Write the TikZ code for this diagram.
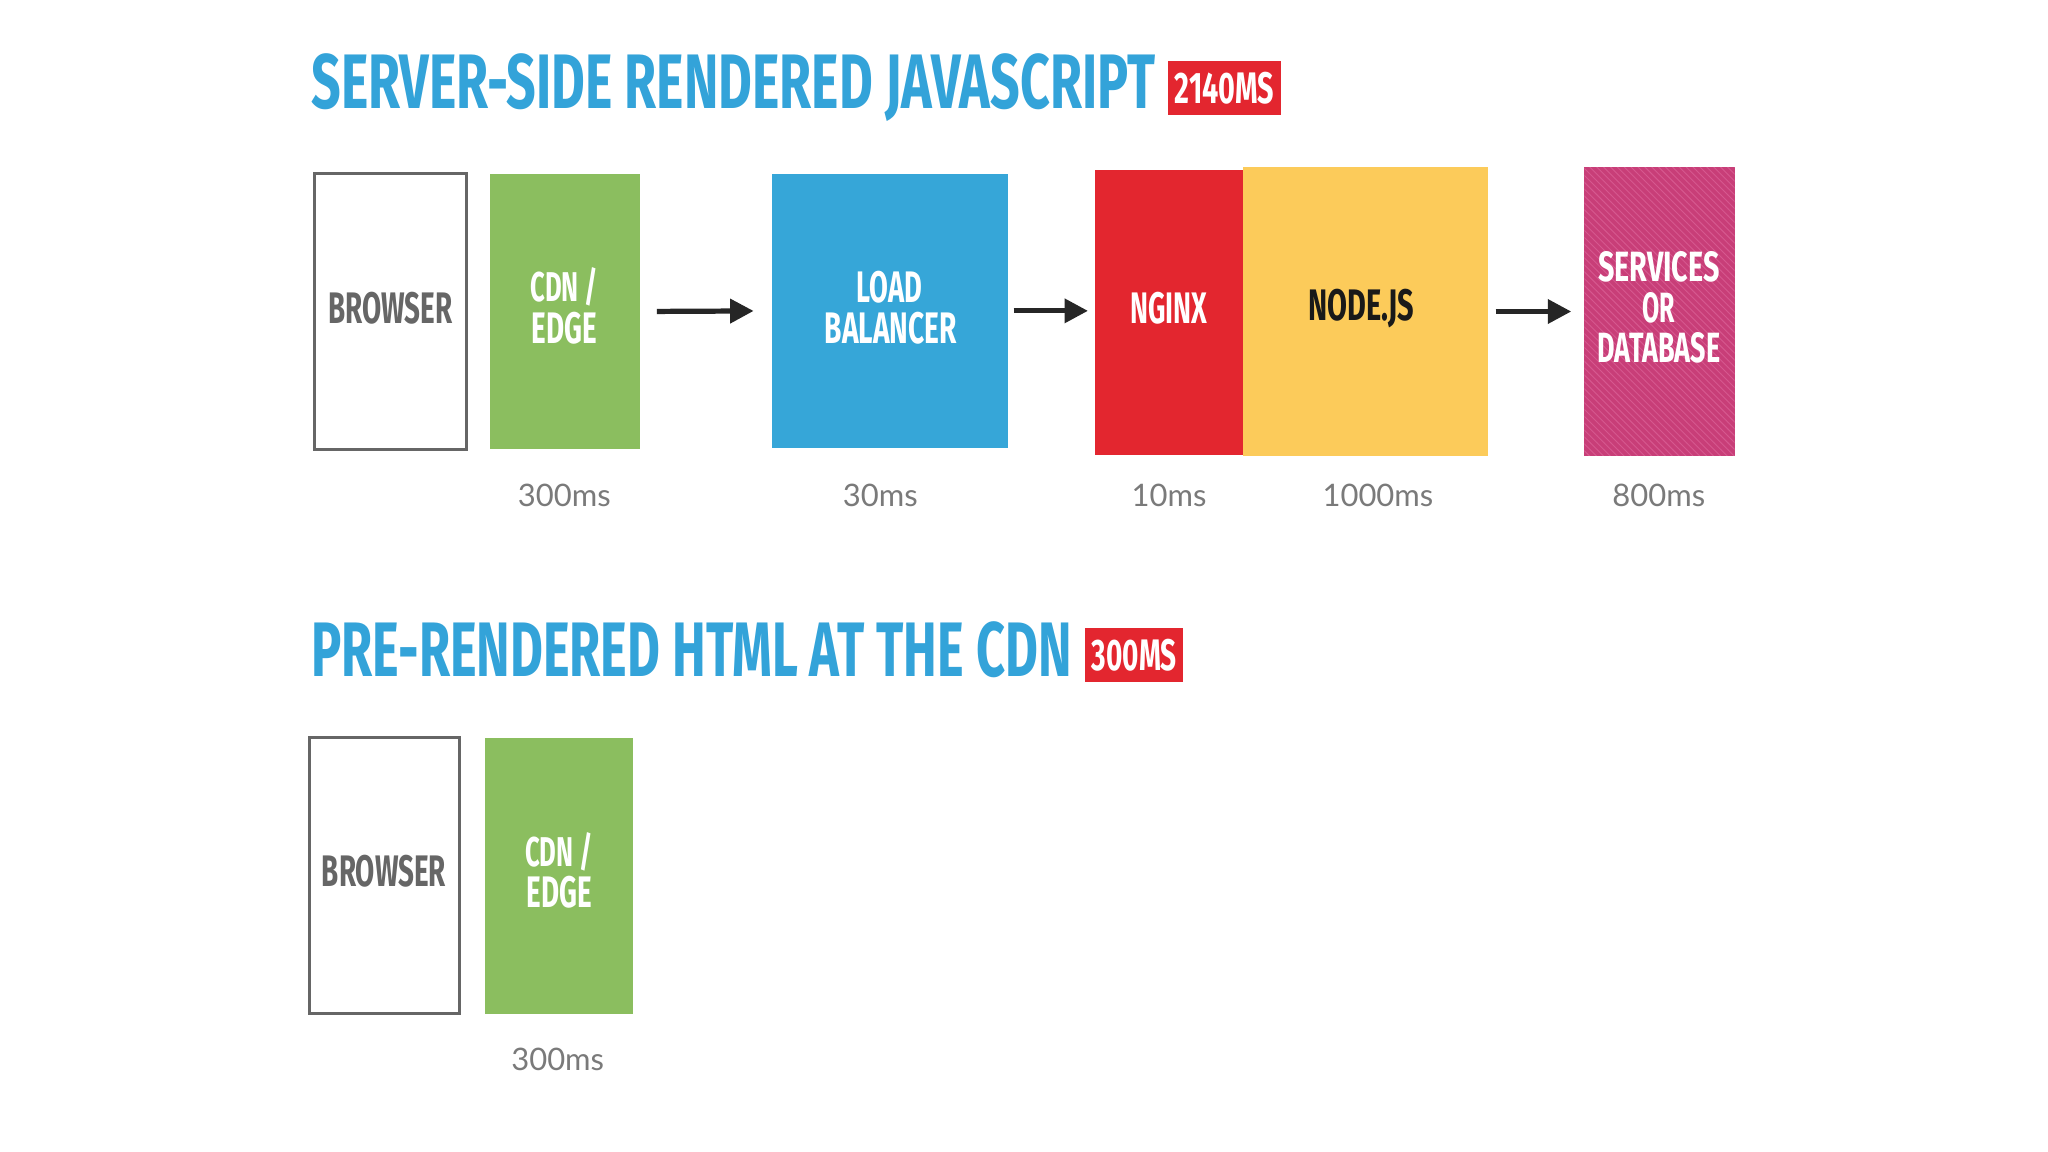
\documentclass[tikz,border=0pt]{standalone}
\usepackage{fontspec}
\usepackage{graphicx}
\setmainfont{Lato}
\newfontfamily\dinf[FakeStretch=0.7]{Fira Sans}
\usetikzlibrary{arrows.meta,patterns}
\definecolor{tblue}{HTML}{33A3D9}
\definecolor{bred}{HTML}{E3262F}
\definecolor{cgreen}{HTML}{8BBE5F}
\definecolor{lblue}{HTML}{36A6D8}
\definecolor{nyel}{HTML}{FCCB5A}
\definecolor{smag}{HTML}{C83E78}
\definecolor{hatch}{HTML}{D6588F}
\definecolor{bgray}{HTML}{666666}
\definecolor{tgray}{HTML}{7A7A7A}
\newcommand\rbx[3]{\resizebox{#1\dimexpr0.02cm\relax}{#2\dimexpr0.02cm\relax}{\dinf\bfseries #3}}
\newcommand\bx[6]{\node[#6,minimum width={(#4-#2)*0.02cm},minimum height={(#5-#3)*0.02cm}] (#1) at ({(#2+#4)/2},{(#3+#5)/2}) {};}
\tikzset{
  blk/.style={inner sep=0pt,outer sep=0pt,draw=none},
  wbox/.style={blk,draw=bgray,line width=1.3pt,fill=white},
  lbl/.style={inner sep=0pt,anchor=center},
  ms/.style={inner sep=0pt,anchor=center,text=tgray,font=\fontsize{13.5pt}{14pt}\selectfont},
  arr/.style={-{Triangle[length=0.36cm,width=0.36cm]},line width=0.08cm,black!85}
}
\begin{document}
\begin{tikzpicture}[x=0.02cm,y=-0.02cm]
\useasboundingbox[fill=white] (0,0) rectangle (1568,882);
% titles
\node[lbl,anchor=base west,text=tblue] (t1) at (238,83) {\rbx{646}{42}{SERVER-SIDE RENDERED JAVASCRIPT}};
\bx{b1}{894}{47}{981}{88}{blk,fill=bred}
\node[lbl,text=white] at (b1) {\rbx{76}{24}{2140MS}};
\node[lbl,anchor=base west,text=tblue] (t2) at (238,518) {\rbx{582}{42}{PRE-RENDERED HTML AT THE CDN}};
\bx{b2}{831}{481}{906}{522}{blk,fill=bred}
\node[lbl,text=white] at (b2) {\rbx{65}{24}{300MS}};
% row 1
\bx{br1}{241}{133}{357}{344}{wbox}
\node[lbl,text=bgray] at (299,236) {\rbx{95}{24}{BROWSER}};
\bx{cdn1}{375}{133}{490}{344}{blk,fill=cgreen}
\node[lbl,text=white] at (432,220) {\rbx{52}{26}{CDN /}};
\node[lbl,text=white] at (432,251) {\rbx{50}{24}{EDGE}};
\bx{lb}{591}{133}{772}{343}{blk,fill=lblue}
\node[lbl,text=white] at (681,220) {\rbx{50}{24}{LOAD}};
\node[lbl,text=white] at (682,251) {\rbx{101}{24}{BALANCER}};
\bx{ngx}{838}{130}{952}{348}{blk,fill=bred}
\node[lbl,text=white] at (895,236) {\rbx{59}{24}{NGINX}};
\bx{nd}{952}{128}{1139}{349}{blk,fill=nyel}
\node[lbl,text=black!90] at (1042,236) {\rbx{81}{24}{NODE.JS}};
\bx{svc}{1213}{128}{1328}{349}{blk,fill=smag}
\fill[pattern=north west lines,pattern color=hatch] (1213,128) rectangle (1328,349);
\node[lbl,text=white] at (1270,204) {\rbx{93}{23}{SERVICES}};
\node[lbl,text=white] at (1270,236) {\rbx{25}{23}{OR}};
\node[lbl,text=white] at (1270,266) {\rbx{94}{23}{DATABASE}};
\draw[arr,shorten <=0.26cm,shorten >=0.28cm] (cdn1.east) -- (lb.west);
\draw[arr,shorten <=0.08cm,shorten >=0.1cm] (lb.east) -- (ngx.west |- lb.east);
\draw[arr,shorten <=0.12cm,shorten >=0.2cm] (nd.east) -- (svc.west);
\node[ms] at (432,379) {300ms};
\node[ms] at (674,379) {30ms};
\node[ms] at (895,379) {10ms};
\node[ms] at (1055,379) {1000ms};
\node[ms] at (1270,379) {800ms};
% row 2
\bx{br2}{237}{565}{352}{776}{wbox}
\node[lbl,text=bgray] at (294,667) {\rbx{95}{24}{BROWSER}};
\bx{cdn2}{371}{565}{485}{776}{blk,fill=cgreen}
\node[lbl,text=white] at (428,652) {\rbx{52}{26}{CDN /}};
\node[lbl,text=white] at (428,683) {\rbx{50}{24}{EDGE}};
\node[ms] at (427,811) {300ms};
\end{tikzpicture}
\end{document}
